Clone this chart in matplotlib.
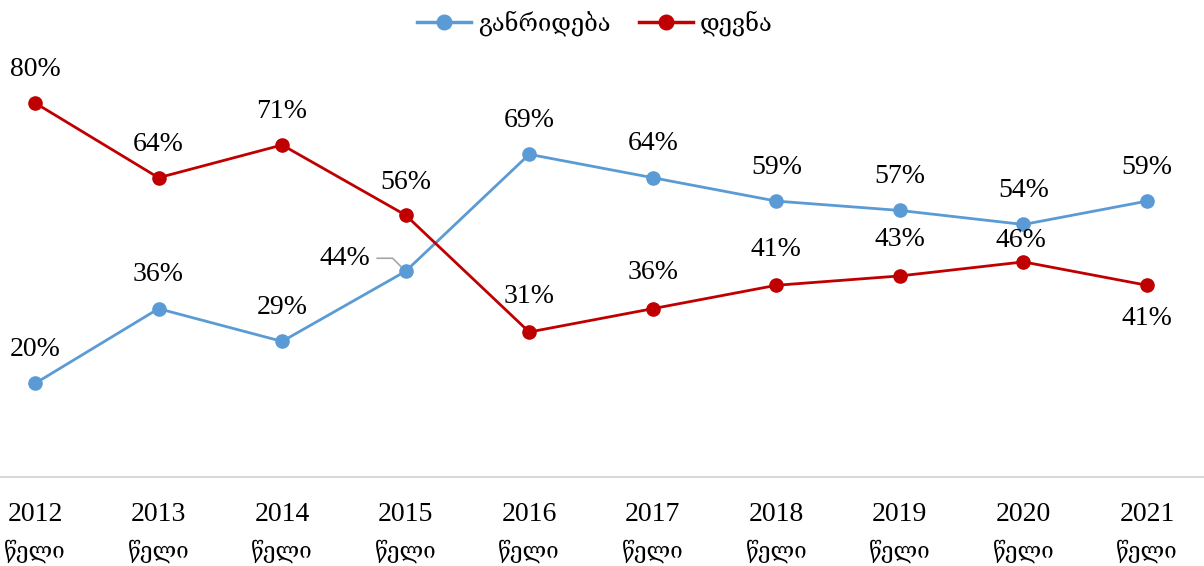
import matplotlib
matplotlib.use("Agg")
import matplotlib.pyplot as plt
from matplotlib.lines import Line2D

plt.rcParams["font.family"] = ["Liberation Serif", "DejaVu Serif", "DejaVu Sans"]

years = [2012, 2013, 2014, 2015, 2016, 2017, 2018, 2019, 2020, 2021]
avoid = [20, 36, 29, 44, 69, 64, 59, 57, 54, 59]
chase = [80, 64, 71, 56, 31, 36, 41, 43, 46, 41]
year_word = "წელი"
series_names = ["განრიდება", "დევნა"]

blue = "#5B9BD5"
red = "#C00000"

fig = plt.figure(figsize=(12.04, 5.66), dpi=100)
ax = fig.add_axes([0, 0.1572, 1, 0.8428])

x = list(range(len(years)))
ax.plot(x, avoid, color=blue, lw=2.0, marker="o", ms=9.5, zorder=3)
ax.plot(x, chase, color=red, lw=2.0, marker="o", ms=9.5, zorder=3)

ax.set_xlim(-0.283, 9.461)
ax.set_ylim(0, 102)

fs = 20   # numbers
gs = 16   # georgian words

# data labels (offsets in pixels)
for i, v in enumerate(avoid):
    if i == 3:
        ax.annotate(f"{v}%", (i, v), xytext=(-61, 13), textcoords="offset pixels",
                    ha="center", va="center", fontsize=fs,
                    arrowprops=dict(arrowstyle="-", color="#A6A6A6", lw=1.2,
                                    relpos=(1, 0.5), shrinkA=3, shrinkB=5,
                                    connectionstyle="angle,angleA=0,angleB=135,rad=0"))
    else:
        ax.annotate(f"{v}%", (i, v), xytext=(0, 34), textcoords="offset pixels",
                    ha="center", va="center", fontsize=fs)

for i, v in enumerate(chase):
    if i == 9:
        off = (0, -33)
    elif i == 8:
        off = (-3, 21)
    elif i >= 4:
        off = (0, 36)
    else:
        off = (0, 33)
    ax.annotate(f"{v}%", (i, v), xytext=off, textcoords="offset pixels",
                ha="center", va="center", fontsize=fs)

# two-line category labels: year on major ticks, word on minor ticks
ax.xaxis.remove_overlapping_locs = False
ax.set_xticks(x)
ax.set_xticklabels([str(y) for y in years], fontsize=fs)
ax.set_xticks(x, minor=True)
ax.set_xticklabels([year_word] * len(years), minor=True, fontsize=gs)
ax.tick_params(axis="x", which="major", length=0, pad=18)
ax.tick_params(axis="x", which="minor", length=0, pad=45)
ax.set_yticks([])
for side in ["top", "left", "right"]:
    ax.spines[side].set_visible(False)
ax.spines["bottom"].set_color("#D9D9D9")
ax.spines["bottom"].set_linewidth(1.5)

handles = [Line2D([], [], color=blue, lw=2.5, marker="o", ms=10.5),
           Line2D([], [], color=red, lw=2.5, marker="o", ms=10.5)]
fig.legend(handles, series_names, loc="upper center", bbox_to_anchor=(0.494, 1.019),
           ncol=2, frameon=False, fontsize=17, handlelength=2.3, columnspacing=1.2,
           handletextpad=0.3)

fig.savefig("out.png", dpi=100)
